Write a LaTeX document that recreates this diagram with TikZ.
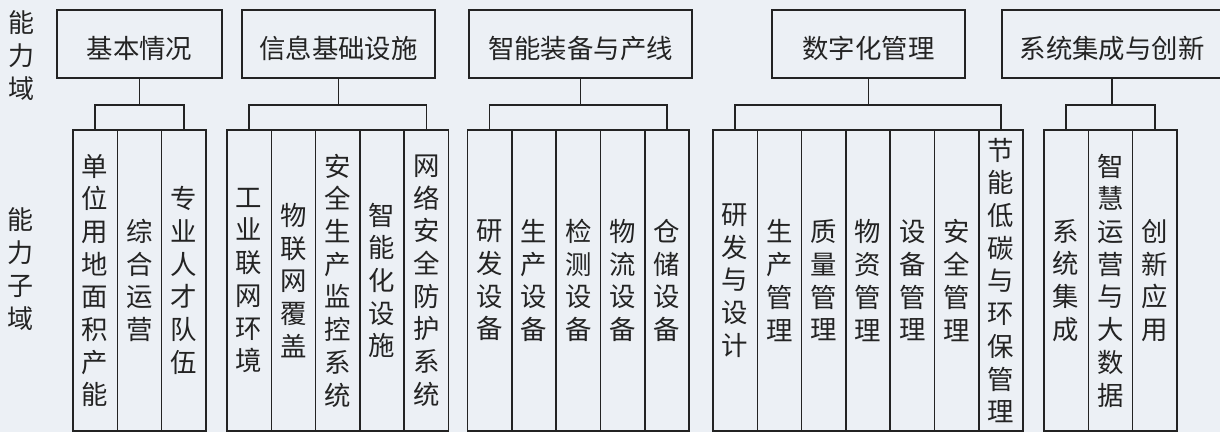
\documentclass[tikz,border=0pt]{standalone}
\usepackage{fontspec}
\setmainfont{Noto Sans CJK SC}
\usetikzlibrary{positioning}
\definecolor{paper}{RGB}{236,240,245}
\definecolor{ink}{RGB}{35,35,35}
\tikzstyle{domainblock}=[draw=ink, line width=0.8pt, rectangle, minimum height=34pt, inner sep=0pt, outer sep=0pt, text height=16.6pt, text depth=1.6pt, text=ink, font=\fontsize{13.2pt}{16pt}\selectfont]
\tikzstyle{subblock}=[draw=ink, line width=0.8pt, rectangle, minimum width=22.15pt, minimum height=150.5pt, inner sep=0pt, outer sep=0pt, align=center, text=ink, font=\fontsize{13.2pt}{16.35pt}\selectfont]
\tikzstyle{sidelabel}=[align=center, inner sep=0pt, text=ink, font=\fontsize{13pt}{16.5pt}\selectfont]
\tikzstyle{tree}=[draw=ink, line width=0.8pt]

\begin{document}
\begin{tikzpicture}[x=0.5pt, y=-0.5pt]
        \useasboundingbox (0,0) rectangle (1220,432);
        \fill[paper] (0,0) rectangle (1220,432);
        \clip (0,0) rectangle (1220,432);
        % left labels
        \node[sidelabel] (lab1) at (22,56) {能\\力\\域};
        \node[sidelabel] (lab2) at (21,269) {能\\力\\子\\域};
        % capability domains
        \node[domainblock, minimum width=82.5pt] (block1) at (139.5,44) {基本情况};
        \node[domainblock, minimum width=96.5pt] (block2) at (338.5,44) {信息基础设施};
        \node[domainblock, minimum width=111.5pt] (block3) at (580.5,44) {智能装备与产线};
        \node[domainblock, minimum width=96.5pt] (block4) at (868.5,44) {数字化管理};
        \node[domainblock, minimum width=110pt] (block5) at (1112,44) {系统集成与创新};
        % sub-domains
        \node[subblock] (sub11) at (95.15,280.5) {单\\位\\用\\地\\面\\积\\产\\能};
        \node[subblock, right=0pt of sub11] (sub12) {综\\合\\运\\营};
        \node[subblock, right=0pt of sub12] (sub13) {专\\业\\人\\才\\队\\伍};
        \node[subblock] (sub21) at (249.15,280.5) {工\\业\\联\\网\\环\\境};
        \node[subblock, right=0pt of sub21] (sub22) {物\\联\\网\\覆\\盖};
        \node[subblock, right=0pt of sub22] (sub23) {安\\全\\生\\产\\监\\控\\系\\统};
        \node[subblock, right=0pt of sub23] (sub24) {智\\能\\化\\设\\施};
        \node[subblock, right=0pt of sub24] (sub25) {网\\络\\安\\全\\防\\护\\系\\统};
        \node[subblock] (sub31) at (489.65,280.5) {研\\发\\设\\备};
        \node[subblock, right=0pt of sub31] (sub32) {生\\产\\设\\备};
        \node[subblock, right=0pt of sub32] (sub33) {检\\测\\设\\备};
        \node[subblock, right=0pt of sub33] (sub34) {物\\流\\设\\备};
        \node[subblock, right=0pt of sub34] (sub35) {仓\\储\\设\\备};
        \node[subblock] (sub41) at (735.15,280.5) {研\\发\\与\\设\\计};
        \node[subblock, right=0pt of sub41] (sub42) {生\\产\\管\\理};
        \node[subblock, right=0pt of sub42] (sub43) {质\\量\\管\\理};
        \node[subblock, right=0pt of sub43] (sub44) {物\\资\\管\\理};
        \node[subblock, right=0pt of sub44] (sub45) {设\\备\\管\\理};
        \node[subblock, right=0pt of sub45] (sub46) {安\\全\\管\\理};
        \node[subblock, right=0pt of sub46] (sub47) {节\\能\\低\\碳\\与\\环\\保\\管\\理};
        \node[subblock] (sub51) at (1066.15,280.5) {系\\统\\集\\成};
        \node[subblock, right=0pt of sub51] (sub52) {智\\慧\\运\\营\\与\\大\\数\\据};
        \node[subblock, right=0pt of sub52] (sub53) {创\\新\\应\\用};
        % connectors
        \draw[tree] (block1.south) -- ++(0,-13.5pt) coordinate (j1);
        \draw[tree] (sub11.north) |- (j1) -| (sub13.north);
        \draw[tree] (block2.south) -- ++(0,-13.5pt) coordinate (j2);
        \draw[tree] (sub21.north) |- (j2) -| (sub25.north);
        \draw[tree] (block3.south) -- ++(0,-13.5pt) coordinate (j3);
        \draw[tree] (sub31.north) |- (j3) -| (sub35.north);
        \draw[tree] (block4.south) -- ++(0,-13.5pt) coordinate (j4);
        \draw[tree] (sub41.north) |- (j4) -| (sub47.north);
        \draw[tree] (block5.south) -- ++(0,-13.5pt) coordinate (j5);
        \draw[tree] (sub51.north) |- (j5) -| (sub53.north);
\end{tikzpicture}
\end{document}
